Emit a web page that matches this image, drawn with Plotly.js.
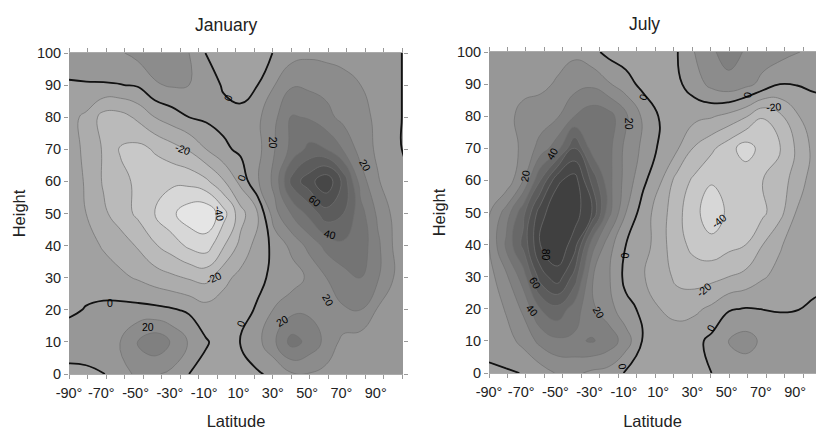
<!DOCTYPE html>
<html><head><meta charset="utf-8">
<script src="https://cdn.plot.ly/plotly-3.0.1.min.js"></script>
<style>html,body{margin:0;padding:0;background:#fff}#c{width:816px;height:430px}</style>
</head><body><div id="c"></div>
<script>
const latitudes=[-90,-80,-70,-60,-50,-40,-30,-20,-10,0,10,20,30,40,50,60,70,80,90,100,110];
const heights=[0,10,20,30,40,50,60,70,80,90,100];
const januaryValues=[
[-1.5,-1.5,-0.6,6,12,11,8,0,-3,-4,-3,-1,2,9,9.5,7,5,4,2,1,1],
[3,4,6,10.5,21,27,19,9,0.8,-4,0.5,7,19,34,27,17,7,5,3,1.5,1],
[-1,0.3,2,3,3,2.5,1,-1.5,-6,-5,-3,1,11,17,18,16,19,20,9,3,1],
[-1,-2,-5,-8,-11,-15,-18,-21,-23,-13,-7,-2,2,5,12,20,26,30,21,9,1],
[-2,-6,-11,-15,-21,-29,-35,-42,-45,-31,-17,-6,3,13,23,33,38,36,22,8,1],
[-4,-10,-18,-25,-32,-40,-48,-56,-58,-44,-24,-10,17,31,43,56,50,34,18,7,1],
[-5,-11,-21,-27,-32,-36,-38,-37,-32,-21,-7,9,23,54,66,78,57,25,11,3,1],
[-6,-12,-21,-31,-33,-29,-24,-19,-10,-2,2,7,20,33,43,40,29,16,8,2,-3],
[-7,-12,-24,-24,-18,-10,-5,0,2,3,3,8,18,31,29,23,17,13,8,2,-3],
[-0.6,-0.5,-0.6,-0.3,1,9,11,10,5,-1,-4,0,10,19,18,17,14,10,7,2,-3],
[3,4,6,9,13,15,14,10,-0.5,-3,-4,-3,0.5,6,8,7,6,5,4,2,-3]];
const julyValues=[
[-1,-1,0.3,5,11,12,8,6,-1,-4,-5,-5,-3,0,3,4,3,3,2,2,2],
[2,6,13,23,28,28,31,26,15,-1,-4,-5,-3,2.5,10.5,14,8,4,3,2,2],
[3,11,22,40,47,35,22,14,3,-2,-10,-13,-12,-8,-1,0.5,-0.2,-0.5,-0.2,1,1.5],
[6,18,35,65,76,56,21,11,-3,-9.5,-14,-23,-25,-23,-20,-17,-11,-7,-4,-2,-1],
[10,32,53,80,88,75,35,14,0,-5,-16,-26.5,-33,-37,-33,-30,-20,-11,-5,-2,-1],
[9,24,47,76,88,85,70,33,10,-5,-15,-27,-37,-46,-38,-35,-32,-23,-9,-2,-1],
[1,3,20,50,78,85,58,33,16,2.5,-9,-24,-32,-39,-38,-33,-30,-25,-15,-5,-3],
[2,5,12,24,36,60,36,33,17,8,-2,-9,-21,-28,-36,-45,-36,-31,-18,-7,-4],
[3,7,13,14.5,19,30,36,34,22,8,-1,-4,-7,-9,-13,-19,-29.5,-22,-11,-3,-2],
[3,5,7,8,11,16,18,11,4,-3,-5,-2,5,13,17,13,7,0,0.5,1,1],
[4,4,5,6,7,8,3,-3,-5,-5,-4,-0.3,10,18.5,24,19,15,14,11,5,5]];
const latTicks=[-90,-71.2,-51.2,-31.2,-11.2,8.8,28.8,48.8,68.8,88.8];
const latTickText=['-90°','-70°','-50°','-30°','-10°','10°','30°','50°','70°','90°'];
const janLabelX=[2.6,10.6,10,-66,-24,-6,-2,-44,34,61,29,82.5,53.5,62];
const janLabelY=[86,61,15.6,22,70,30,50,14.5,16.6,23,72,65,54,43.6];
const janLabelText=['0','0','0','0','-20','-20','-40','20','20','20','20','20','60','40'];
const janLabelAngle=[-70,-70,-70,0,20,-25,80,0,-30,60,90,60,40,15];
const julLabelX=[0,-10.6,61,39.6,-11.6,-8.6,-69,-26,-53.4,-65,-63,-57,76,35,44];
const julLabelY=[86,36.6,86.5,14,2,77.5,61.4,19,68.3,19.5,28,37,83,26,47.5];
const julLabelText=['0','0','0','0','0','20','20','20','40','40','60','80','-20','-20','-40'];
const julLabelAngle=[-70,-90,-80,-60,80,90,-80,60,-60,50,60,90,-5,-40,-40];
const grayScale=[[0,'#ebebeb'],[0.0667,'#dfdfdf'],[0.1333,'#cfcfcf'],[0.2,'#c2c2c2'],[0.2667,'#b2b2b2'],[0.3333,'#a6a6a6'],[0.4,'#9c9c9c'],[0.4667,'#929292'],[0.5333,'#868686'],[0.6,'#7a7a7a'],[0.6667,'#6e6e6e'],[0.7333,'#626262'],[0.8,'#565656'],[0.8667,'#4a4a4a'],[1,'#3c3c3c']];
const FONT='"Liberation Sans", Arial, sans-serif';

function panel(z,xa,ya){
  return [{type:'contour',x:latitudes,y:heights,z:z,xaxis:xa,yaxis:ya,zmin:-60,zmax:90,colorscale:grayScale,showscale:false,hoverinfo:'skip',
    contours:{start:-60,end:90,size:10,coloring:'fill'},line:{color:'#707070',width:0.7,smoothing:1.3}},
   {type:'contour',x:latitudes,y:heights,z:z,xaxis:xa,yaxis:ya,showscale:false,hoverinfo:'skip',
    contours:{start:0,end:0,size:1,coloring:'none'},line:{color:'#111',width:1.8,smoothing:1.3}}];
}
function labels(xs,ys,ts,as,xr,yr){
  return xs.map((x,i)=>({x:x,y:ys[i],text:ts[i],textangle:as[i],xref:xr,yref:yr,showarrow:false,font:{family:FONT,size:10.5,color:'#000'}}));
}
function paperText(text,px,py,size){
  return {text:text,x:px/816,y:1-py/430,xref:'paper',yref:'paper',showarrow:false,xanchor:'center',yanchor:'middle',font:{family:FONT,size:size,color:'#222'}};
}
function xAxis(domain,range,title){
  return {domain:domain,range:range,tickmode:'array',tickvals:latTicks,ticktext:latTickText,ticks:'',ticklabelstandoff:6,showgrid:false,zeroline:false,showline:true,linecolor:'#aaa',linewidth:1,
    tickfont:{family:FONT,size:14.5,color:'#222'},title:{text:title,font:{family:FONT,size:16.5,color:'#222'},standoff:16},
    minor:{tick0:-90,dtick:10.8,ticks:'outside',ticklen:4,tickcolor:'#999',tickwidth:1,showgrid:false},mirror:'ticks'};
}
function yAxis(domain,title,anchor){
  return {domain:domain,range:[0,100],anchor:anchor,tickmode:'linear',tick0:0,dtick:10,ticks:'outside',ticklen:4,tickcolor:'#999',showgrid:false,zeroline:false,showline:false,mirror:'ticks',
    tickfont:{family:FONT,size:14.5,color:'#222'},title:{text:title,font:{family:FONT,size:16.5,color:'#222'},standoff:7}};
}
const layout={width:816,height:430,margin:{l:0,r:0,t:0,b:0},paper_bgcolor:'#fff',plot_bgcolor:'#9c9c9c',showlegend:false,
  xaxis:xAxis([69/816,403/816],[-90,104.7],'Latitude'),
  yaxis:yAxis([1-374/430,1-53/430],'Height','x'),
  xaxis2:Object.assign(xAxis([489/816,1],[-90,101],'Latitude'),{anchor:'y2'}),
  yaxis2:yAxis([1-373/430,1-52/430],'Height','x2'),
  annotations:[paperText('January',226,25,17.5),paperText('July',644,24,17.5)]
    .concat(labels(janLabelX,janLabelY,janLabelText,janLabelAngle,'x','y'))
    .concat(labels(julLabelX,julLabelY,julLabelText,julLabelAngle,'x2','y2'))
};
Plotly.newPlot('c',panel(januaryValues,'x','y').concat(panel(julyValues,'x2','y2')),layout,{displayModeBar:false,staticPlot:true});
</script></body></html>
